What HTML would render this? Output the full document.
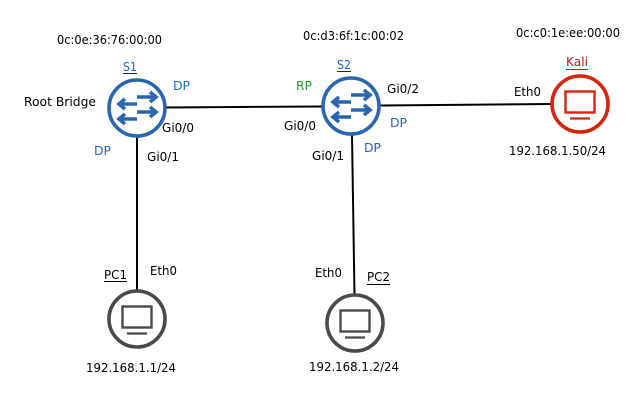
<!DOCTYPE html>
<html><head><meta charset="utf-8"><style>
html,body{margin:0;padding:0;background:#fff}
svg{display:block}
text{font-family:"DejaVu Sans","Liberation Sans",sans-serif;font-size:12.5px;fill:#000}
.b{fill:#1f62c8}.g{fill:#2a9a2a}.r{fill:#b22020}
</style></head><body>
<svg width="644" height="400" viewBox="0 0 644 400" xmlns="http://www.w3.org/2000/svg">
<defs>
<g id="sw" fill="none" stroke="#2a66b0">
<circle r="28" stroke-width="3.6" fill="#fff"/>
<g stroke-width="3.6">
<path d="M0 -11H18M13 -16L19 -11L13 -6"/>
<path d="M0 -4H-17M-12 -9L-18 -4L-12 1"/>
<path d="M0 4H18M13 -1L19 4L13 9"/>
<path d="M0 11H-17M-12 6L-18 11L-12 16"/>
</g>
</g>
<g id="pc" fill="none">
<circle r="28" stroke-width="3.6" fill="#fff"/>
<rect x="-14.500" y="-12.500" width="29" height="21" stroke-width="2.400"/>
<path d="M-10 14.500H10" stroke-width="2.200"/>
</g>
</defs>
<g stroke="#000" stroke-width="2" fill="none">
<path d="M165 107.500L323 106.500"/>
<path d="M379 105.500L552 104"/>
<path d="M137 136V291"/>
<path d="M352 134L354.500 296"/>
</g>
<use href="#sw" x="137" y="108"/>
<use href="#sw" x="351" y="106"/>
<use href="#pc" x="137" y="319" stroke="#4a4a4a"/>
<use href="#pc" x="355" y="323" stroke="#4a4a4a"/>
<use href="#pc" x="580" y="104" stroke="#d9230f"/>

<text lengthAdjust="spacingAndGlyphs" x="57" y="44" textLength="105">0c:0e:36:76:00:00</text>
<text lengthAdjust="spacingAndGlyphs" x="303" y="40" textLength="101">0c:d3:6f:1c:00:02</text>
<text lengthAdjust="spacingAndGlyphs" x="516" y="37" textLength="104">0c:c0:1e:ee:00:00</text>

<text lengthAdjust="spacingAndGlyphs" x="123" y="71" class="b" textLength="14">S1</text>
<path d="M123 73.500H137" stroke="#1a1a99" stroke-width="1"/>
<text lengthAdjust="spacingAndGlyphs" x="337" y="69" class="b" textLength="14">S2</text>
<path d="M337 71.500H351" stroke="#1a1a99" stroke-width="1"/>
<text lengthAdjust="spacingAndGlyphs" x="566" y="66" class="r" textLength="22">Kali</text>
<path d="M566 69.500H588" stroke="#b22020" stroke-width="1"/>
<text lengthAdjust="spacingAndGlyphs" x="104" y="279" textLength="23">PC1</text>
<path d="M104 281.500H127" stroke="#000" stroke-width="1"/>
<text lengthAdjust="spacingAndGlyphs" x="367" y="281" textLength="23">PC2</text>
<path d="M367 284.500H390" stroke="#000" stroke-width="1"/>

<text lengthAdjust="spacingAndGlyphs" x="24" y="106" textLength="72">Root Bridge</text>
<text lengthAdjust="spacingAndGlyphs" x="173" y="90" class="b" textLength="17">DP</text>
<text lengthAdjust="spacingAndGlyphs" x="94" y="155" class="b" textLength="17">DP</text>
<text lengthAdjust="spacingAndGlyphs" x="296" y="90" class="g" textLength="16">RP</text>
<text lengthAdjust="spacingAndGlyphs" x="390" y="127" class="b" textLength="17">DP</text>
<text lengthAdjust="spacingAndGlyphs" x="364" y="152" class="b" textLength="17">DP</text>
<text lengthAdjust="spacingAndGlyphs" x="162" y="132" textLength="32">Gi0/0</text>
<text lengthAdjust="spacingAndGlyphs" x="147" y="161" textLength="32">Gi0/1</text>
<text lengthAdjust="spacingAndGlyphs" x="284" y="130" textLength="32">Gi0/0</text>
<text lengthAdjust="spacingAndGlyphs" x="312" y="160" textLength="32">Gi0/1</text>
<text lengthAdjust="spacingAndGlyphs" x="387" y="93" textLength="32">Gi0/2</text>
<text lengthAdjust="spacingAndGlyphs" x="150" y="275" textLength="27">Eth0</text>
<text lengthAdjust="spacingAndGlyphs" x="315" y="277" textLength="27">Eth0</text>
<text lengthAdjust="spacingAndGlyphs" x="514" y="96" textLength="27">Eth0</text>
<text lengthAdjust="spacingAndGlyphs" x="86" y="372" textLength="90">192.168.1.1/24</text>
<text lengthAdjust="spacingAndGlyphs" x="309" y="371" textLength="90">192.168.1.2/24</text>
<text lengthAdjust="spacingAndGlyphs" x="509" y="155" textLength="97">192.168.1.50/24</text>
</svg>
</body></html>
